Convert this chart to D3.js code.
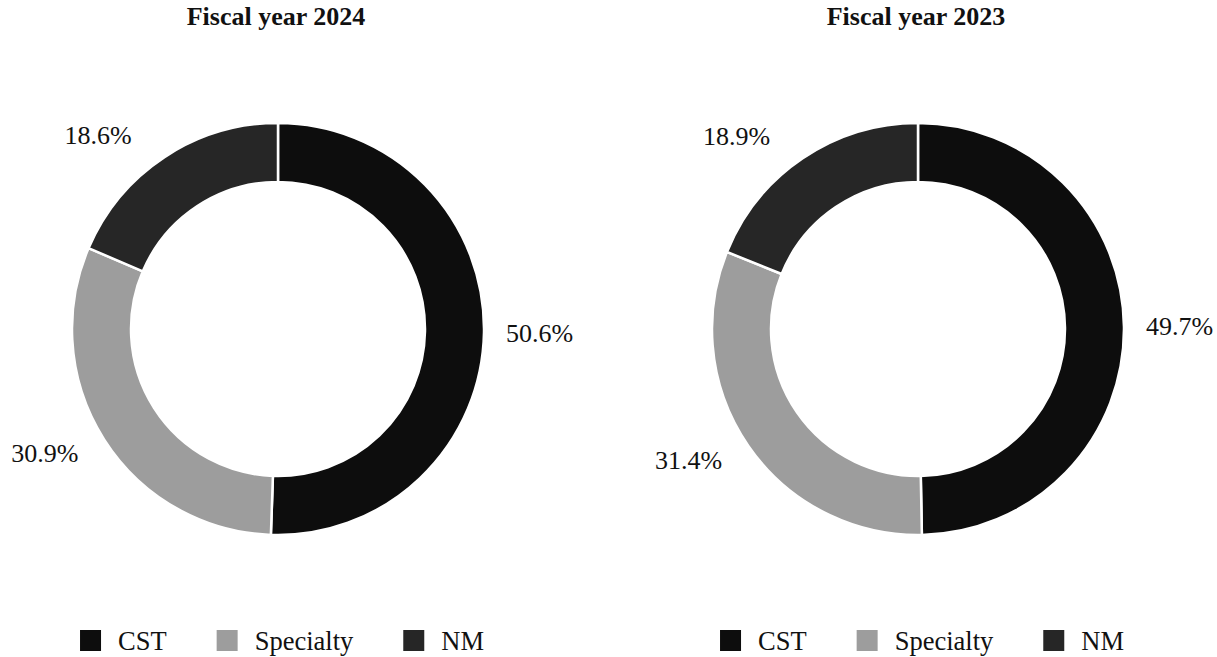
<!DOCTYPE html>
<html>
<head>
<meta charset="utf-8">
<script src="https://cdn.jsdelivr.net/npm/d3@7"></script>
<style>
  body { margin: 0; background: #fff; }
</style>
</head>
<body>
<div id="main"></div>
<script>
const ctx = {
    w: 1217,
    h: 657,
    outerR: 206,
    innerR: 147,
    cy: 329,
    centers: [278, 918],
    font: "'Liberation Serif', 'Times New Roman', serif",
};

// data
const categories = ["CST", "Specialty", "NM"];
const colors = ["#0d0d0d", "#9d9d9d", "#262626"];
const years = ["Fiscal year 2024", "Fiscal year 2023"];
const values2024 = [50.6, 30.9, 18.6];
const values2023 = [49.7, 31.4, 18.9];
const seriesValues = [values2024, values2023];

const color = d3.scaleOrdinal().domain(categories).range(colors);

const svg = d3.select("#main").append("svg")
    .attr("width", ctx.w)
    .attr("height", ctx.h);

const pie = d3.pie().sort(null).value(d => d.v);
const arc = d3.arc().innerRadius(ctx.innerR).outerRadius(ctx.outerR);

seriesValues.forEach((vals, i) => {
    const cx = ctx.centers[i];
    const g = svg.append("g").attr("transform", `translate(${cx},${ctx.cy})`);
    const rows = categories.map((c, j) => ({ cat: c, v: vals[j] }));
    const arcs = pie(rows);

    g.selectAll("path")
        .data(arcs)
        .enter()
        .append("path")
        .attr("d", arc)
        .attr("fill", d => color(d.data.cat))
        .attr("stroke", "#fff")
        .attr("stroke-width", 2.5);

    // labels outside the ring
    g.selectAll("text.lbl")
        .data(arcs)
        .enter()
        .append("text")
        .attr("class", "lbl")
        .each(function (d) {
            const a = (d.startAngle + d.endAngle) / 2;
            const s = Math.sin(a), c = Math.cos(a);
            const side = s >= 0 ? 1 : -1;
            d3.select(this)
                .attr("x", s * 182 + side * 46)
                .attr("y", -c * 232)
                .attr("text-anchor", side > 0 ? "start" : "end");
        })
        .attr("dominant-baseline", "central")
        .attr("font-family", ctx.font)
        .attr("font-size", 26)
        .attr("fill", "#111")
        .text(d => d.data.v.toFixed(1) + "%");

    // title
    svg.append("text")
        .attr("x", cx - 2)
        .attr("y", 25)
        .attr("text-anchor", "middle")
        .attr("font-family", ctx.font)
        .attr("font-size", 26)
        .attr("font-weight", "bold")
        .attr("fill", "#111")
        .text(years[i]);

    // legend
    const lg = svg.append("g");
    let x = 0;
    categories.forEach(c => {
        const item = lg.append("g").attr("transform", `translate(${x},0)`);
        item.append("rect")
            .attr("x", 0).attr("y", 630)
            .attr("width", 21).attr("height", 21)
            .attr("fill", color(c));
        const t = item.append("text")
            .attr("x", 38).attr("y", 650)
            .attr("font-family", ctx.font)
            .attr("font-size", 26.5)
            .attr("fill", "#111")
            .text(c);
        x += 38 + t.node().getComputedTextLength() + 50;
    });
    const lw = x - 50;
    lg.attr("transform", `translate(${cx + 4 - lw / 2},0)`);
});
</script>
</body>
</html>
